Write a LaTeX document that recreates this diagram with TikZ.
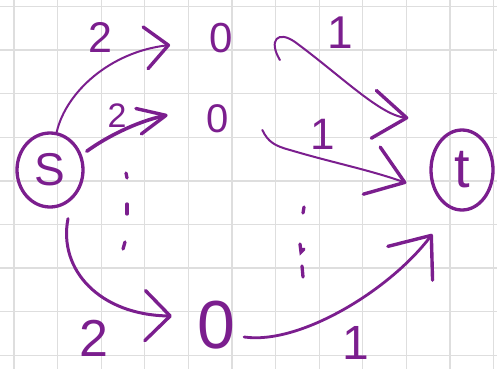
\documentclass[tikz,border=0pt]{standalone}
\usepackage{fontspec}
\setmainfont{Liberation Sans}
\usetikzlibrary{arrows.meta,shapes.geometric}
\definecolor{ink}{HTML}{7B1E8E}
\definecolor{gridc}{HTML}{DEDEDE}
\begin{document}
\begin{tikzpicture}[x=1pt,y=-1pt,
  gridline/.style={draw=gridc,line width=1.3pt},
  txt/.style={text=ink,inner sep=0pt,font=\fontsize{#1}{#1}\selectfont},
  endnode/.style={ellipse,draw=ink,line width=3.3pt,text=ink,inner sep=0pt,font=\fontsize{#1}{#1}\selectfont},
  edge/.style={draw=ink,line cap=round,line join=round,line width=#1},
  dotmark/.style={draw=ink,line cap=round,line width=3.3pt},
  barb/.style n args={2}{-{Straight Barb[length=#1,width=#2,line width=3.4pt,round]}}
]
\useasboundingbox (0,0) rectangle (497,369);
\fill[white] (0,0) rectangle (497,369);
% grid paper
\foreach \i in {0,...,11} \draw[gridline] ({14+43.6*\i},0) -- ({14+43.6*\i},369);
\foreach \j in {0,...,8} \draw[gridline] (0,{6.5+43.6*\j}) -- (497,{6.5+43.6*\j});

% nodes
\node[endnode=46, minimum width=66pt, minimum height=74pt] (S) at (50,170) {S};
\node[endnode=56, minimum width=62pt, minimum height=80pt] (t) at (462,170) {t};
\node[txt=42] (a) at (221,38) {0};
\node[txt=40] (b) at (218,119) {0};
\node[txt=68] (c) at (216,325) {0};

% capacity labels
\node[txt=43] (w1) at (100,37) {2};
\node[txt=34] (w2) at (117,116) {2};
\node[txt=52] (w3) at (94,338) {2};
\node[txt=46] (v1) at (340,33) {1};
\node[txt=44] (v2) at (323,134) {1};
\node[txt=48] (v3) at (356,343) {1};

% edges from S
\draw[edge=2pt, barb={23pt}{42pt}]
  (S.80) .. controls (66,92) and (110,52) .. ([shift={(-39,7)}]a.west);
\draw[edge=3.6pt, barb={28pt}{26pt}]
  ([shift={(6,-1)}]S.30) .. controls (105,138) and (135,122) .. ([shift={(-39,-4)}]b.west);
\draw[edge=3pt, barb={25pt}{50pt}]
  ([shift={(18,10)}]S.south) .. controls (58,270) and (100,315) .. ([shift={(-25,-9)}]c.west);

% edges into t
\draw[edge=2pt, barb={33pt}{48pt}]
  ([shift={(47,22)}]a.east) .. controls (268,40) and (278,30) .. (295,42)
  .. controls (340,75) and (380,115) .. ([shift={(-21,-52)}]t.west);
\draw[edge=2pt, barb={35pt}{50pt}]
  ([shift={(33,11)}]b.east) .. controls (268,142) and (275,146) .. (290,150)
  .. controls (330,162) and (370,170) .. ([shift={(-23,13)}]t.west);
\draw[edge=2.8pt, barb={35pt}{56pt}]
  ([shift={(9,12)}]c.east) .. controls (300,345) and (390,290) .. ([shift={(3,64)}]t.west);

% vertical ellipsis marks
\draw[dotmark] (126,173) -- (127,178);
\draw[dotmark] (127,204) -- (127,214);
\draw[dotmark] (125,242) -- (123,249);
\draw[dotmark] (304,207) -- (303,213);
\draw[dotmark] (300,244) -- (301,252) -- (304,249);
\draw[dotmark] (302,266) -- (303,277);
\end{tikzpicture}
\end{document}
